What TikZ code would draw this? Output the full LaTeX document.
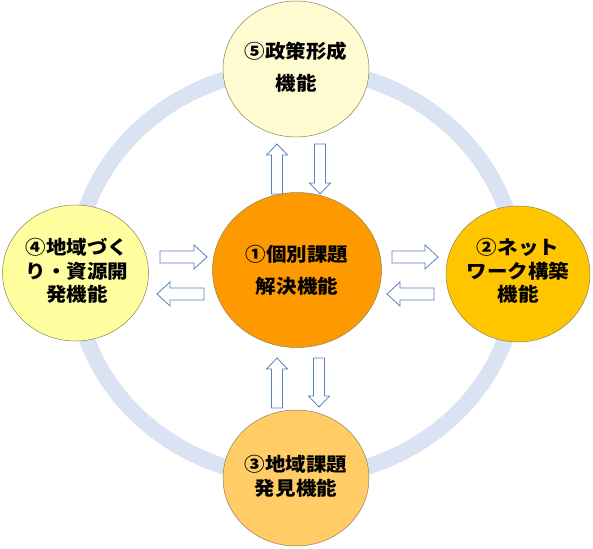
\documentclass[tikz,border=0pt]{standalone}
\usepackage{fontspec}
\newfontfamily\jp{Noto Sans CJK JP}[FakeStretch=1.08]
\usetikzlibrary{shapes.geometric}
\definecolor{ringc}{HTML}{DAE3F3}
\definecolor{edgec}{HTML}{8A8455}
\definecolor{arrc}{HTML}{5B7FC0}
\definecolor{fillA}{HTML}{FF9900}
\definecolor{fillB}{HTML}{FFC600}
\definecolor{fillC}{HTML}{FFCC66}
\definecolor{fillD}{HTML}{FFFFA0}
\definecolor{fillE}{HTML}{FFFCD2}
\tikzset{
  bubble/.style={ellipse, draw=edgec, line width=0.5pt, inner sep=0pt},
  smallbubble/.style={bubble, minimum width=146pt, minimum height=136pt},
  label2/.style={align=center, font=\jp\bfseries\fontsize{19}{32}\selectfont},
  label3/.style={align=center, font=\jp\bfseries\fontsize{19}{23.5}\selectfont},
  blockarrow/.style={draw=arrc, fill=white, line width=0.8pt, line join=miter},
  ringline/.style={draw=ringc, line width=16pt}
}
\begin{document}
\begin{tikzpicture}[x=1pt,y=-1pt]
\useasboundingbox (0,0) rectangle (593,548);
\fill[white] (0,0) rectangle (593,548);
% ring
\coordinate (ringc) at (296,273);
\draw[ringline] (ringc) ellipse [x radius=221pt, y radius=204.5pt];
% circles
\node[smallbubble, fill=fillE] (c5) at (296,69) {};
\node[smallbubble, fill=fillD] (c4) at (75.5,273) {};
\node[smallbubble, minimum width=144pt, fill=fillB] (c2) at (518,274) {};
\node[smallbubble, fill=fillC] (c3) at (296,478) {};
\node[bubble, minimum width=169pt, minimum height=155pt, fill=fillA] (c1) at (297,270) {};
% texts
\node[label2] (t5) at (296,67) {⑤政策形成\\機能};
\node[label3] (t4) at (77,271) {④地域づく\\り・資源開\\発機能};
\node[label3] (t2) at (518,271) {②ネット\\ワーク構築\\機能};
\node[label2] (t1) at (297,270) {①個別課題\\解決機能};
\node[label3, font=\jp\bfseries\fontsize{19}{24}\selectfont] (t3) at (296,476) {③地域課題\\発見機能};
% block arrows
\draw[blockarrow] (271.5,194)--(271.5,155)--(266.5,155)--(277,144)--(287.5,155)--(282.5,155)--(282.5,194)--cycle;
\draw[blockarrow] (314.5,144)--(314.5,183)--(309.5,183)--(320,194)--(330.5,183)--(325.5,183)--(325.5,144)--cycle;
\draw[blockarrow] (271.5,408)--(271.5,369)--(266.5,369)--(277,358)--(287.5,369)--(282.5,369)--(282.5,408)--cycle;
\draw[blockarrow] (313.5,358)--(313.5,396)--(308.5,396)--(319,407)--(329.5,396)--(324.5,396)--(324.5,358)--cycle;
\draw[blockarrow] (160,251)--(194,251)--(194,245)--(207,257)--(194,269)--(194,263)--(160,263)--cycle;
\draw[blockarrow] (392,251)--(425,251)--(425,245)--(438,257)--(425,269)--(425,263)--(392,263)--cycle;
\draw[blockarrow] (204,288)--(170,288)--(170,282)--(157,294)--(170,306)--(170,300)--(204,300)--cycle;
\draw[blockarrow] (434,288)--(400,288)--(400,282)--(387,294)--(400,306)--(400,300)--(434,300)--cycle;
\end{tikzpicture}
\end{document}
